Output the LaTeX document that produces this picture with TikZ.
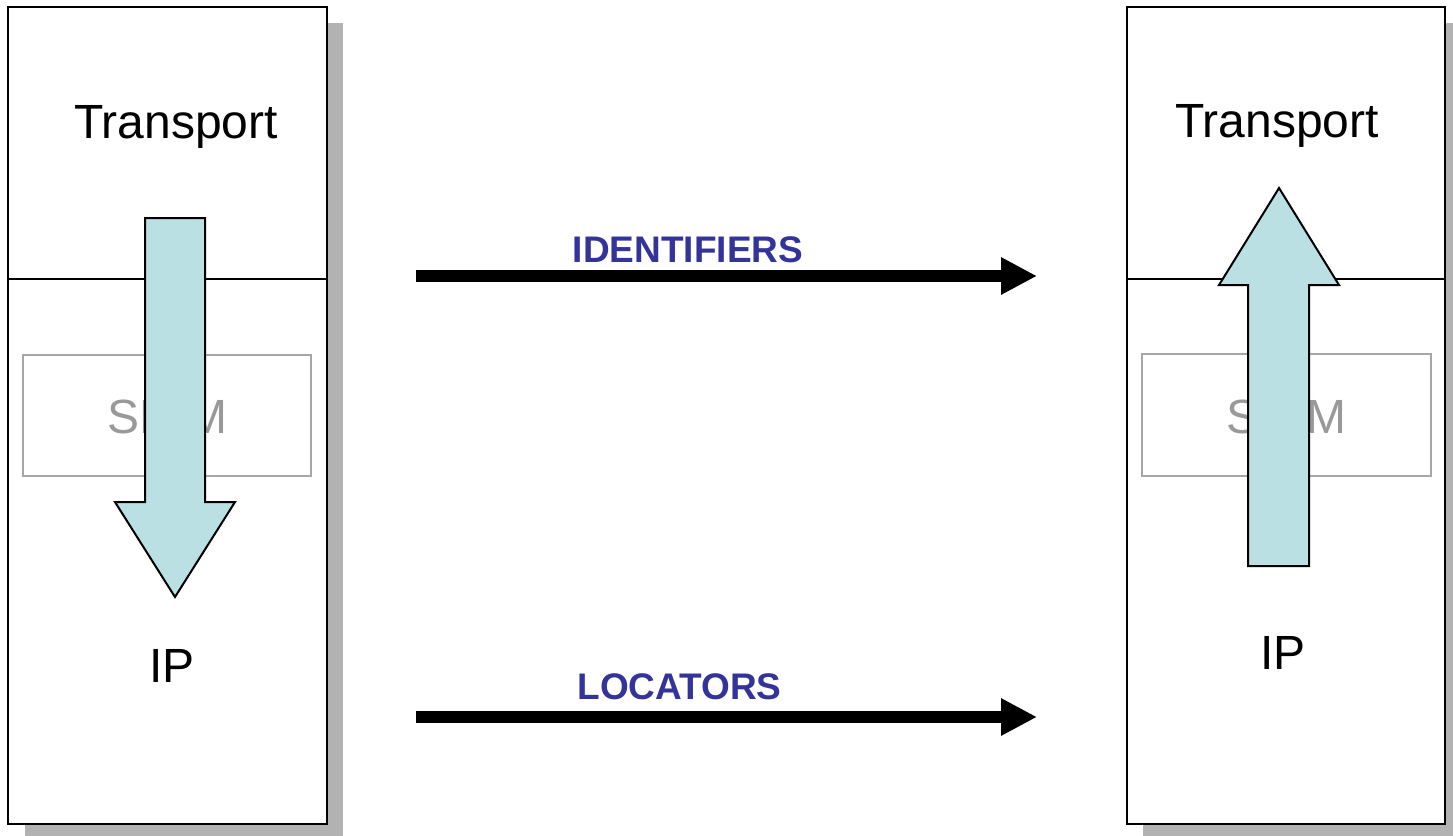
\documentclass[tikz,border=0pt]{standalone}
\usepackage{fontspec}
\setmainfont{Liberation Sans}
\usetikzlibrary{arrows.meta}
\definecolor{shadowgray}{HTML}{B2B2B2}
\definecolor{shimgray}{HTML}{A6A6A6}
\definecolor{shimtext}{HTML}{999999}
\definecolor{lightblue}{HTML}{BBE0E3}
\definecolor{labelblue}{HTML}{333399}
\tikzset{
  hostbox/.style={draw=black, line width=2pt, fill=white},
  hostshadow/.style={fill=shadowgray, draw=none},
  divider/.style={draw=black, line width=1.5pt},
  shimbox/.style={draw=shimgray, line width=2pt},
  bigtext/.style={font=\fontsize{48}{48}\selectfont, anchor=base, inner sep=0pt},
  shimlabel/.style={font=\fontsize{48}{48}\selectfont, text=shimtext, anchor=base, inner sep=0pt},
  flowlabel/.style={font=\bfseries\fontsize{37}{37}\selectfont, text=labelblue, anchor=base, inner sep=0pt},
  blockarrow/.style={draw=black, line width=2pt, fill=lightblue, line join=miter},
  blackarrow/.style={line width=12pt, -{Triangle[length=36pt 0 0, width=35pt 0 0]}}
}
\begin{document}
\begin{tikzpicture}[x=1pt, y=-1pt]
\useasboundingbox (0,0) rectangle (1453,835);
\clip (0,0) rectangle (1453,835);
% left host
\fill[hostshadow] (25,23) rectangle (343,841);
\draw[hostbox] (8,7) rectangle (327,824);
\draw[divider] (8,279) -- (327,279);
\draw[shimbox] (23,355) rectangle (311,476);
\node[shimlabel] (shimL) at (167,433) {SHIM};
% right host
\fill[hostshadow] (1143,23) rectangle (1461,841);
\draw[hostbox] (1127,7) rectangle (1445,824);
\draw[divider] (1127,279) -- (1445,279);
\draw[shimbox] (1142,354) rectangle (1431,476);
\node[shimlabel] (shimR) at (1286.5,433) {SHIM};
% block arrows
\draw[blockarrow] (145,218) -- (205,218) -- (205,502) -- (235,502) -- (175,597)
  -- (115,502) -- (145,502) -- cycle;
\draw[blockarrow] (1248,566) -- (1309,566) -- (1309,285) -- (1339,285) -- (1279,188)
  -- (1219,285) -- (1248,285) -- cycle;
% texts
\node[bigtext] (transL) at (176,138) {Transport};
\node[bigtext] (transR) at (1277,137) {Transport};
\node[bigtext] (ipL) at (172,682) {IP};
\node[bigtext] (ipR) at (1283,669) {IP};
% flows
\coordinate (idS) at (416,276);
\coordinate (idE) at (1037,276);
\coordinate (locS) at (416,717);
\coordinate (locE) at (1037,717);
\draw[blackarrow] (idS) -- (idE);
\draw[blackarrow] (locS) -- (locE);
\node[flowlabel] (idlab) at (688,262) {IDENTIFIERS};
\node[flowlabel] (loclab) at (679.5,699) {LOCATORS};
\end{tikzpicture}
\end{document}
